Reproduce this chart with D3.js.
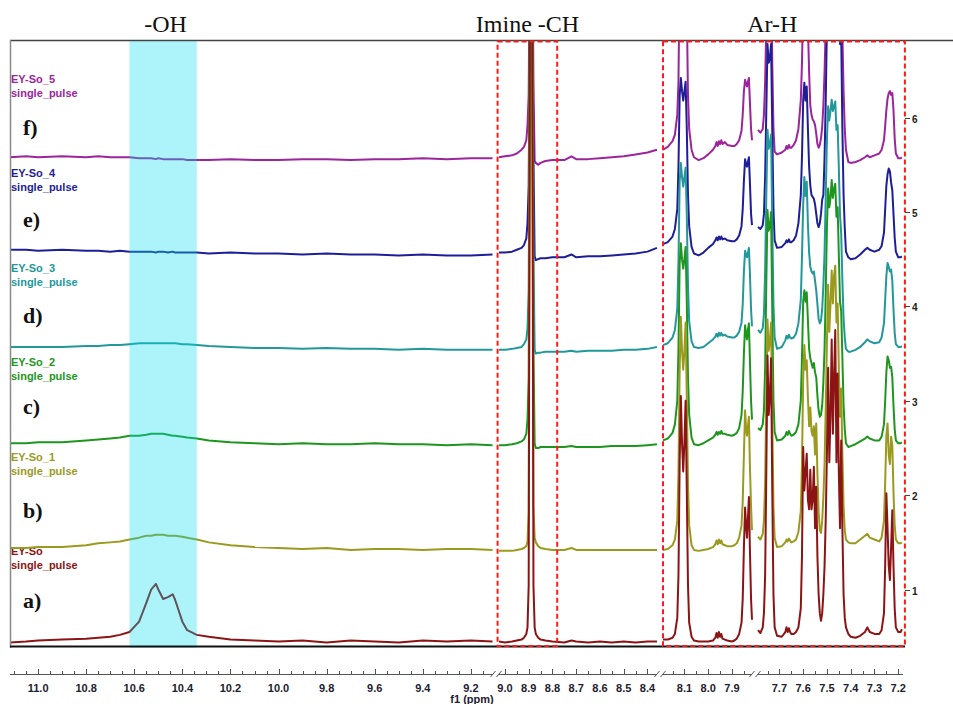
<!DOCTYPE html>
<html><head><meta charset="utf-8">
<script src="https://cdn.jsdelivr.net/npm/d3@7/dist/d3.min.js"></script>
<style>
html,body{margin:0;padding:0;background:#fff;}
svg{display:block;}
</style></head><body>
<svg id="chart" width="953" height="704"></svg>
<script>
// ---------- sample description ----------
const sampleNames  = ["EY-So", "EY-So_1", "EY-So_2", "EY-So_3", "EY-So_4", "EY-So_5"];
const sampleSub    = "single_pulse";
const panelLetters = ["a)", "b)", "c)", "d)", "e)", "f)"];
const stackOffsets = [0.45, 1.43, 2.55, 3.57, 4.58, 5.58];
const yTicks       = [1, 2, 3, 4, 5, 6];

// ---------- chemical-shift grids (ppm), one per displayed window ----------
const ppmOH = [11.12, 11.05, 11.0, 10.9, 10.8, 10.75, 10.7, 10.66, 10.62, 10.58, 10.55, 10.53, 10.51, 10.5,
  10.48, 10.46, 10.44, 10.43, 10.4, 10.38, 10.34, 10.29, 10.2, 10.1, 10.0, 9.9, 9.8, 9.7, 9.6, 9.5, 9.4, 9.3, 9.2, 9.11];
const ppmImine = [9.025, 9.0, 8.97, 8.95, 8.93, 8.92, 8.91, 8.905, 8.9, 8.895, 8.89, 8.885, 8.88, 8.875, 8.87,
  8.86, 8.85, 8.83, 8.8, 8.75, 8.72, 8.7, 8.65, 8.6, 8.55, 8.5, 8.45, 8.4, 8.36];
const ppmAr1 = [8.19, 8.17, 8.15, 8.14, 8.13, 8.125, 8.12, 8.115, 8.11, 8.105, 8.1, 8.095, 8.09,
  8.085, 8.08, 8.07, 8.06, 8.04, 8.02, 8.0,
  7.98, 7.97, 7.965, 7.96, 7.955, 7.95, 7.945, 7.94, 7.93, 7.92,
  7.9, 7.89, 7.88, 7.87, 7.86, 7.855, 7.85, 7.845, 7.84, 7.837, 7.833, 7.829, 7.825, 7.82, 7.816];
const ppmAr2 = [7.79, 7.78, 7.77, 7.765, 7.76, 7.755, 7.75, 7.745, 7.74, 7.735, 7.73, 7.725, 7.72,
  7.71, 7.69, 7.675, 7.67, 7.665, 7.66, 7.655, 7.65, 7.64, 7.63, 7.62,
  7.61, 7.605, 7.6, 7.595, 7.59, 7.585, 7.58, 7.575, 7.57, 7.565, 7.56, 7.555, 7.55, 7.545, 7.54, 7.535, 7.53, 7.525, 7.52,
  7.515, 7.51, 7.505, 7.5, 7.495, 7.49, 7.485, 7.48, 7.475, 7.47, 7.465, 7.46, 7.455, 7.45, 7.445, 7.44, 7.435, 7.43, 7.425, 7.42,
  7.41, 7.4, 7.38, 7.36, 7.34, 7.33, 7.32, 7.3, 7.28, 7.27,
  7.26, 7.255, 7.25, 7.245, 7.24, 7.235, 7.23, 7.225, 7.22, 7.215, 7.21, 7.2, 7.19, 7.185];

// ---------- intensities above each trace's own baseline ----------
// EY-So (a)
const soOH = [-0.01, 0.0, 0.01, 0.02, 0.03, 0.04, 0.05, 0.07, 0.10, 0.21, 0.41, 0.55, 0.61, 0.55, 0.45, 0.47, 0.50,
  0.44, 0.21, 0.12, 0.07, 0.05, 0.02, 0.01, 0.0, 0.01, -0.01, 0.01, 0.0, -0.01, 0.01, 0.0, 0.01, 0.0];
const soImine = [0.0, -0.01, 0.0, 0.01, 0.02, 0.04, 0.08, 0.15, 0.6, 6.6, 6.6, 6.6, 0.6, 0.15, 0.08,
  0.04, 0.02, 0.01, 0.0, -0.01, 0.01, 0.0, -0.01, 0.0, -0.01, 0.0, -0.01, 0.0, 0.0];
const soAr1 = [0.02, 0.02, 0.04, 0.08, 0.25, 0.7, 1.9, 2.6, 2.1, 1.8, 2.1, 2.55, 1.6,
  0.6, 0.2, 0.05, 0.01, 0.0, 0.0, 0.0,
  0.01, 0.04, 0.09, 0.04, 0.1, 0.05, 0.08, 0.03, 0.02, 0.01,
  0.0, 0.01, 0.03, 0.08, 0.2, 0.45, 1.0, 1.42, 1.2, 1.1, 1.3, 1.53, 1.0, 0.45, 0.23];
const soAr2 = [0.12, 0.09, 0.15, 0.3, 0.7, 1.8, 3.03, 2.4, 2.6, 3.0, 1.6, 0.5, 0.15,
  0.06, 0.05, 0.1, 0.15, 0.1, 0.14, 0.1, 0.08, 0.08, 0.1, 0.15,
  0.35, 0.9, 2.06, 1.6, 1.8, 1.99, 1.5, 1.4, 1.82, 1.4, 1.5, 1.85, 1.2, 1.64, 0.9, 0.5, 0.3, 0.22, 0.3,
  0.5, 0.8, 1.3, 2.0, 2.9, 1.9, 2.4, 3.2, 2.2, 2.8, 3.3, 1.9, 2.84, 1.8, 1.2, 2.13, 1.2, 0.5, 0.25, 0.15,
  0.08, 0.05, 0.04, 0.06, 0.1, 0.15, 0.1, 0.08, 0.08, 0.12,
  0.3, 0.8, 1.57, 1.2, 0.8, 0.65, 1.0, 1.39, 0.8, 0.35, 0.15, 0.1, 0.1, 0.13];

// EY-So_1 (b)
const so1OH = [0.01, 0.01, 0.02, 0.02, 0.04, 0.06, 0.07, 0.08, 0.10, 0.12, 0.14, 0.14, 0.15, 0.15, 0.15, 0.14, 0.14,
  0.14, 0.13, 0.12, 0.10, 0.07, 0.04, 0.02, 0.01, 0.0, 0.01, -0.01, 0.0, 0.0, -0.01, 0.0, 0.0, -0.01];
const so1Imine = [-0.02, -0.02, -0.02, -0.01, 0.0, 0.01, 0.03, 0.08, 0.4, 5.6, 5.6, 5.6, 0.45, 0.12, 0.07,
  0.03, 0.01, 0.0, -0.01, -0.01, 0.01, -0.01, -0.01, -0.01, -0.01, -0.01, -0.01, -0.01, -0.01];
const so1Ar1 = [-0.01, 0.0, 0.04, 0.1, 0.3, 0.8, 1.9, 2.46, 2.1, 1.9, 2.1, 2.4, 1.6,
  0.7, 0.25, 0.04, -0.01, -0.02, -0.01, 0.0,
  0.02, 0.05, 0.09, 0.05, 0.1, 0.06, 0.09, 0.05, 0.04, 0.03,
  0.03, 0.04, 0.06, 0.12, 0.25, 0.5, 1.0, 1.47, 1.25, 1.2, 1.3, 1.4, 0.9, 0.45, 0.2];
const so1Ar2 = [0.13, 0.1, 0.16, 0.3, 0.7, 1.6, 2.43, 2.1, 2.2, 2.4, 1.4, 0.45, 0.12,
  0.02, 0.03, 0.07, 0.1, 0.08, 0.11, 0.09, 0.07, 0.08, 0.1, 0.18,
  0.4, 0.9, 1.8, 2.16, 1.9, 2.0, 1.6, 1.3, 1.5, 1.25, 1.2, 1.3, 1.0, 1.33, 0.8, 0.4, 0.2, 0.17, 0.3,
  0.55, 0.9, 1.5, 2.2, 2.8, 2.3, 2.6, 2.95, 2.6, 2.9, 3.0, 2.4, 2.6, 1.9, 1.4, 1.7, 1.0, 0.45, 0.2, 0.1,
  0.07, 0.06, 0.06, 0.1, 0.14, 0.16, 0.12, 0.1, 0.08, 0.12,
  0.3, 0.7, 1.2, 1.33, 1.0, 0.9, 1.19, 1.1, 0.6, 0.25, 0.1, 0.06, 0.06, 0.07];

// EY-So_2 (c)
const so2OH = [0.0, 0.0, 0.01, 0.01, 0.03, 0.04, 0.05, 0.06, 0.08, 0.08, 0.09, 0.10, 0.10, 0.10, 0.10, 0.09, 0.08,
  0.08, 0.07, 0.06, 0.05, 0.03, 0.01, 0.0, -0.01, 0.0, -0.01, -0.01, 0.0, -0.01, -0.01, -0.02, -0.01, -0.02];
const so2Imine = [-0.02, -0.02, -0.01, 0.0, 0.02, 0.04, 0.1, 0.25, 0.7, 4.5, 4.5, 4.5, 1.0, 0.0, -0.05,
  -0.05, -0.04, -0.04, -0.04, -0.04, -0.03, -0.04, -0.04, -0.04, -0.03, -0.03, -0.03, -0.02, -0.01];
const so2Ar1 = [0.03, 0.05, 0.11, 0.2, 0.45, 1.0, 1.9, 2.12, 1.95, 1.85, 1.95, 2.08, 1.5,
  0.7, 0.3, 0.06, -0.01, -0.02, 0.0, 0.03,
  0.06, 0.09, 0.12, 0.09, 0.12, 0.1, 0.13, 0.1, 0.1, 0.09,
  0.08, 0.09, 0.11, 0.16, 0.3, 0.55, 0.95, 1.25, 1.15, 1.1, 1.2, 1.27, 0.9, 0.45, 0.25];
const so2Ar2 = [0.16, 0.14, 0.2, 0.35, 0.8, 1.7, 2.47, 2.25, 2.3, 2.45, 1.4, 0.45, 0.12,
  0.03, 0.04, 0.08, 0.12, 0.09, 0.13, 0.1, 0.08, 0.09, 0.12, 0.2,
  0.45, 0.9, 1.5, 1.62, 1.5, 1.6, 1.3, 1.0, 0.9, 0.85, 0.8, 0.85, 0.75, 0.7, 0.5, 0.35, 0.28, 0.3, 0.4,
  0.65, 1.0, 1.6, 2.3, 2.7, 2.5, 2.6, 2.79, 2.6, 2.7, 2.75, 2.4, 2.5, 2.0, 1.5, 1.4, 0.9, 0.4, 0.15, 0.0,
  -0.04, -0.03, -0.01, 0.02, 0.05, 0.07, 0.05, 0.03, 0.03, 0.07,
  0.2, 0.45, 0.75, 0.92, 0.88, 0.8, 0.81, 0.7, 0.4, 0.15, 0.03, 0.0, 0.0, 0.01];

// EY-So_3 (d)
const so3OH = [0.0, 0.0, 0.0, 0.0, 0.01, 0.01, 0.02, 0.02, 0.03, 0.04, 0.04, 0.04, 0.04, 0.04, 0.04, 0.04, 0.04,
  0.04, 0.03, 0.03, 0.02, 0.01, 0.0, -0.01, -0.01, -0.02, -0.01, -0.02, -0.02, -0.03, -0.02, -0.03, -0.03, -0.03];
const so3Imine = [-0.03, -0.03, -0.02, -0.01, 0.0, 0.03, 0.08, 0.2, 0.6, 3.5, 3.5, 3.5, 1.0, -0.03, -0.07,
  -0.06, -0.06, -0.05, -0.05, -0.05, -0.04, -0.05, -0.04, -0.04, -0.04, -0.03, -0.03, -0.02, 0.0];
const so3Ar1 = [0.02, 0.04, 0.1, 0.18, 0.4, 0.9, 1.75, 1.95, 1.8, 1.7, 1.8, 1.9, 1.4,
  0.65, 0.27, 0.06, 0.0, -0.01, 0.0, 0.04,
  0.08, 0.11, 0.14, 0.11, 0.15, 0.12, 0.15, 0.12, 0.13, 0.11,
  0.1, 0.1, 0.12, 0.16, 0.26, 0.45, 0.8, 1.02, 0.97, 0.95, 1.0, 1.05, 0.8, 0.4, 0.22];
const so3Ar2 = [0.18, 0.15, 0.2, 0.35, 0.8, 1.6, 2.3, 2.1, 2.15, 2.25, 1.3, 0.45, 0.1,
  -0.02, 0.0, 0.07, 0.12, 0.09, 0.13, 0.1, 0.09, 0.1, 0.14, 0.25,
  0.5, 0.95, 1.5, 1.8, 1.6, 1.75, 1.3, 1.0, 0.85, 0.8, 0.78, 0.8, 0.7, 0.6, 0.45, 0.3, 0.25, 0.28, 0.4,
  0.65, 1.0, 1.6, 2.2, 2.55, 2.4, 2.5, 2.62, 2.5, 2.55, 2.6, 2.3, 2.35, 1.9, 1.4, 1.2, 0.7, 0.3, 0.1, -0.02,
  -0.05, -0.05, -0.03, 0.0, 0.05, 0.08, 0.06, 0.04, 0.05, 0.1,
  0.25, 0.5, 0.75, 0.89, 0.85, 0.8, 0.82, 0.7, 0.4, 0.15, 0.03, 0.0, 0.0, 0.01];

// EY-So_4 (e)
const so4OH = [0.02, 0.02, 0.01, 0.02, 0.01, 0.01, 0.0, 0.01, 0.0, 0.0, 0.0, 0.0, -0.01, 0.0, 0.0, -0.01, 0.0,
  -0.01, -0.01, -0.01, -0.01, -0.02, -0.01, -0.02, -0.02, -0.03, -0.02, -0.03, -0.03, -0.04, -0.03, -0.04, -0.04, -0.03];
const so4Imine = [-0.01, -0.01, 0.0, 0.02, 0.04, 0.07, 0.14, 0.3, 0.7, 2.5, 2.5, 2.5, 1.0, -0.05, -0.09,
  -0.08, -0.07, -0.07, -0.06, -0.06, -0.03, -0.06, -0.05, -0.05, -0.04, -0.03, -0.02, 0.0, 0.04];
const so4Ar1 = [0.08, 0.1, 0.16, 0.24, 0.45, 0.9, 1.65, 1.84, 1.7, 1.6, 1.7, 1.8, 1.3,
  0.6, 0.27, 0.05, -0.02, -0.04, -0.01, 0.04,
  0.08, 0.12, 0.15, 0.12, 0.16, 0.13, 0.16, 0.13, 0.14, 0.12,
  0.11, 0.11, 0.13, 0.17, 0.27, 0.45, 0.75, 0.98, 0.92, 0.9, 0.95, 1.0, 0.75, 0.4, 0.28];
const so4Ar2 = [0.26, 0.24, 0.28, 0.4, 0.8, 1.5, 2.2, 2.0, 2.05, 2.2, 1.3, 0.45, 0.12,
  0.04, 0.05, 0.09, 0.12, 0.1, 0.13, 0.1, 0.1, 0.12, 0.17, 0.3,
  0.6, 1.0, 1.6, 1.79, 1.6, 1.75, 1.3, 0.9, 0.7, 0.6, 0.58, 0.56, 0.5, 0.4, 0.3, 0.26, 0.3, 0.4, 0.55,
  0.6, 1.0, 1.6, 2.4, 2.6, 2.5, 2.6, 2.7, 2.6, 2.7, 2.7, 2.5, 2.6, 2.4, 2.2, 2.3, 1.3, 0.6, 0.25, 0.0,
  -0.06, -0.08, -0.07, -0.03, 0.02, 0.04, 0.02, 0.0, 0.02, 0.06,
  0.2, 0.45, 0.7, 0.82, 0.88, 0.85, 0.73, 0.65, 0.4, 0.15, 0.0, -0.06, -0.06, -0.05];

// EY-So_5 (f)
const so5OH = [0.0, 0.01, 0.0, 0.01, 0.0, 0.01, 0.0, 0.0, 0.0, -0.01, -0.01, -0.01, -0.02, -0.01, -0.02, -0.02, -0.02,
  -0.02, -0.02, -0.03, -0.03, -0.03, -0.02, -0.03, -0.03, -0.02, -0.02, -0.03, -0.02, -0.02, -0.01, -0.02, -0.01, -0.01];
const so5Imine = [0.0, 0.01, 0.02, 0.04, 0.08, 0.11, 0.18, 0.34, 0.66, 2.5, 2.5, 2.5, 0.8, -0.04, -0.06,
  -0.08, -0.06, -0.04, -0.03, -0.03, 0.01, -0.02, -0.02, -0.01, 0.0, 0.01, 0.03, 0.05, 0.08];
const so5Ar1 = [0.08, 0.11, 0.17, 0.24, 0.45, 0.8, 2.0, 2.5, 2.2, 2.0, 2.2, 2.5, 1.6,
  0.65, 0.3, 0.08, 0.0, -0.03, -0.01, 0.03,
  0.08, 0.12, 0.16, 0.12, 0.17, 0.14, 0.18, 0.14, 0.16, 0.13,
  0.12, 0.12, 0.14, 0.18, 0.28, 0.45, 0.7, 0.82, 0.77, 0.75, 0.8, 0.84, 0.6, 0.3, 0.18];
const so5Ar2 = [0.29, 0.26, 0.3, 0.45, 0.8, 1.4, 2.0, 1.8, 1.9, 2.0, 1.0, 0.3, 0.06,
  0.03, 0.05, 0.08, 0.12, 0.09, 0.13, 0.1, 0.1, 0.13, 0.18, 0.3,
  0.6, 1.0, 1.6, 1.9, 1.7, 1.8, 1.4, 0.9, 0.55, 0.45, 0.4, 0.38, 0.34, 0.25, 0.14, 0.1, 0.13, 0.2, 0.32,
  0.55, 0.9, 1.4, 2.0, 2.0, 1.9, 2.0, 2.1, 2.0, 2.1, 2.1, 2.0, 2.0, 1.9, 1.9, 1.9, 1.3, 0.7, 0.3, 0.08,
  -0.05, -0.06, -0.05, -0.03, 0.0, 0.02, 0.0, 0.02, 0.04, 0.08,
  0.18, 0.33, 0.5, 0.62, 0.68, 0.7, 0.66, 0.68, 0.5, 0.2, 0.04, -0.01, -0.01, 0.0];

// ---------- annotations (ppm) ----------
const ohBand      = [10.62, 10.34];
const regionBoxes = [[9.031, 8.78], [8.19, 7.172]];
const regionTitles = [
  {text: "-OH", ppm: 10.47},
  {text: "Imine -CH", ppm: 8.905},
  {text: "Ar-H", ppm: 7.73}
];
const tickLabelsOH    = [11.0, 10.8, 10.6, 10.4, 10.2, 10.0, 9.8, 9.6, 9.4, 9.2];
const tickLabelsImine = [9.0, 8.9, 8.8, 8.7, 8.6, 8.5, 8.4];
const tickLabelsAr1   = [8.1, 8.0, 7.9];
const tickLabelsAr2   = [7.7, 7.6, 7.5, 7.4, 7.3, 7.2];

// ---------- assemble ----------
const ppmGrids = [ppmOH, ppmImine, ppmAr1, ppmAr2];
const spectra = [
  [soOH,  soImine,  soAr1,  soAr2],
  [so1OH, so1Imine, so1Ar1, so1Ar2],
  [so2OH, so2Imine, so2Ar1, so2Ar2],
  [so3OH, so3Imine, so3Ar1, so3Ar2],
  [so4OH, so4Imine, so4Ar1, so4Ar2],
  [so5OH, so5Imine, so5Ar1, so5Ar2]
];
const colors = ["#8c1414", "#9a9a1e", "#1e961e", "#22989a", "#1e1e96", "#9c249c"];

const svg = d3.select("#chart");
const plot = {left: 10, right: 905, top: 40, bottom: 648};

// broken ppm axis: four windows with their own linear scales
const windows = [
  {domain: [11.117, 9.108], range: [10, 493]},
  {domain: [9.025, 8.36],   range: [499, 657]},
  {domain: [8.19, 7.816],   range: [663, 752]},
  {domain: [7.79, 7.18],    range: [758, 903]}
];
const xs = windows.map(w => d3.scaleLinear().domain(w.domain).range(w.range));
function xAt(ppm) {
  let best = 0, bestD = Infinity;
  windows.forEach((w, i) => {
    const hi = w.domain[0], lo = w.domain[1];
    const d = ppm > hi ? ppm - hi : (ppm < lo ? lo - ppm : 0);
    if (d < bestD) { bestD = d; best = i; }
  });
  return xs[best](ppm);
}
const y = d3.scaleLinear().domain([0.381, 6.822]).range([648, 40]);

svg.append("defs").append("clipPath").attr("id", "plotClip")
  .append("rect").attr("x", plot.left).attr("y", plot.top)
  .attr("width", plot.right - plot.left).attr("height", plot.bottom - plot.top);

// sample labels
const labelFont = "'Liberation Sans', Arial, sans-serif";
const labelY = [555, 460.5, 366, 271.5, 177, 83];
sampleNames.forEach((name, i) => {
  const g = svg.append("g").attr("fill", colors[i])
    .style("font-family", labelFont).style("font-weight", "bold").style("font-size", "11px");
  g.append("text").attr("x", 11).attr("y", labelY[i]).text(name);
  g.append("text").attr("x", 11).attr("y", labelY[i] + 14).text(sampleSub);
});
// panel letters
const letterY = [608, 518, 414, 323, 227, 135];
panelLetters.forEach((t, i) => {
  svg.append("text").attr("x", 23).attr("y", letterY[i]).text(t)
    .style("font-family", "'Liberation Serif', 'Times New Roman', serif")
    .style("font-weight", "bold").style("font-size", "22px").attr("fill", "#111");
});

// spectra, top trace first so lower traces sit on top
const traces = svg.append("g").attr("clip-path", "url(#plotClip)");
for (let s = spectra.length - 1; s >= 0; s--) {
  spectra[s].forEach((vals, w) => {
    const grid = ppmGrids[w];
    const n = Math.min(grid.length, vals.length);
    const pts = d3.range(n).map(k => [grid[k], vals[k]]);
    const line = d3.line()
      .x(d => xs[w](d[0]))
      .y(d => y(stackOffsets[s] + d[1]));
    traces.append("path").attr("d", line(pts))
      .attr("fill", "none").attr("stroke", colors[s])
      .attr("stroke-width", 2).attr("stroke-linejoin", "round");
  });
}

// hydroxyl band (translucent, over the traces)
svg.append("rect")
  .attr("x", xAt(ohBand[0])).attr("y", plot.top)
  .attr("width", xAt(ohBand[1]) - xAt(ohBand[0]))
  .attr("height", plot.bottom - plot.top)
  .attr("fill", "#00dcf0").attr("opacity", 0.32);

// frame
svg.append("line").attr("x1", 10).attr("x2", 953).attr("y1", 40.5).attr("y2", 40.5)
  .attr("stroke", "#444").attr("stroke-width", 1.5);
svg.append("line").attr("x1", 10.5).attr("x2", 10.5).attr("y1", 40).attr("y2", 648)
  .attr("stroke", "#8a8a8a").attr("stroke-width", 1.5);
svg.append("line").attr("x1", 10).attr("x2", 905).attr("y1", 646.5).attr("y2", 646.5)
  .attr("stroke", "#111").attr("stroke-width", 2);

// dashed region boxes
regionBoxes.forEach(b => {
  const x0 = xAt(b[0]), x1 = xAt(b[1]);
  svg.append("rect").attr("x", x0).attr("y", 41.5).attr("width", x1 - x0).attr("height", 604.5)
    .attr("fill", "none").attr("stroke", "#ff1a1a").attr("stroke-width", 2)
    .attr("stroke-dasharray", "5,3");
});

// region titles
regionTitles.forEach(t => {
  svg.append("text").attr("x", xAt(t.ppm)).attr("y", 32).attr("text-anchor", "middle")
    .style("font-family", "'Liberation Serif', 'Times New Roman', serif")
    .style("font-size", "24px").attr("fill", "#111").text(t.text);
});

// bottom ppm axis
const axisY = 674;
const axisG = svg.append("g").attr("stroke", "#555").attr("stroke-width", 1);
const labelSets = [tickLabelsOH, tickLabelsImine, tickLabelsAr1, tickLabelsAr2];
const fmt = d3.format(".1f");
windows.forEach((w, i) => {
  axisG.append("line").attr("x1", w.range[0]).attr("x2", w.range[1])
    .attr("y1", axisY + 0.5).attr("y2", axisY + 0.5);
  const hi = Math.floor(w.domain[0] * 20), lo = Math.ceil(w.domain[1] * 20);
  for (let k = lo; k <= hi; k++) {
    const xp = Math.round(xs[i](k / 20)) + 0.5;
    axisG.append("line").attr("x1", xp).attr("x2", xp)
      .attr("y1", axisY).attr("y2", axisY - 3);
  }
  labelSets[i].forEach(v => {
    const xp = Math.round(xs[i](v)) + 0.5;
    axisG.append("line").attr("x1", xp).attr("x2", xp).attr("y1", axisY).attr("y2", axisY - 5);
    svg.append("text").attr("x", xs[i](v)).attr("y", 692).attr("text-anchor", "middle")
      .style("font-family", labelFont).style("font-weight", "bold").style("font-size", "11px")
      .attr("fill", "#1e2030").text(fmt(v));
  });
});
// break marks between windows
for (let i = 0; i < windows.length - 1; i++) {
  [windows[i].range[1], windows[i + 1].range[0]].forEach(xp => {
    axisG.append("line").attr("x1", xp - 2.5).attr("x2", xp + 2.5)
      .attr("y1", axisY + 3).attr("y2", axisY - 3);
  });
}
svg.append("text").attr("x", 472).attr("y", 703).attr("text-anchor", "middle")
  .style("font-family", labelFont).style("font-weight", "bold").style("font-size", "11px")
  .attr("fill", "#1e2030").text("f1 (ppm)");

// right intensity axis
yTicks.forEach(v => {
  const yp = Math.round(y(v)) + 0.5;
  svg.append("line").attr("x1", 905).attr("x2", 910).attr("y1", yp).attr("y2", yp)
    .attr("stroke", "#444").attr("stroke-width", 1);
  svg.append("text").attr("x", 912).attr("y", yp + 4).text(v)
    .style("font-family", labelFont).style("font-weight", "bold").style("font-size", "10px")
    .attr("fill", "#222");
});
</script>
</body></html>
